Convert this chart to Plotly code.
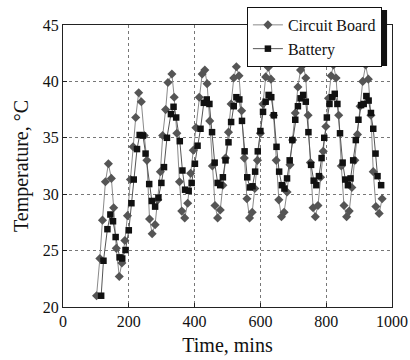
import plotly.graph_objects as go

cb_time = [102,112,120,129,138,147,154,162,171,179,188,196,205,213,221,230,238,247,255,263,
           271,280,288,296,303,312,319,331,338,346,354,361,370,379,388,396,404,414,423,431,
           438,446,454,462,470,478,486,494,503,511,519,527,
           535,543,551,559,567,575,583,591,600,608,616,624,
           632,640,648,656,664,672,681,690,698,706,714,722,730,
           738,745,752,760,767,775,783,791,799,807,815,822,
           830,838,846,854,862,870,878,887,895,903,911,920,
           928,936,943,951,961,970]
cb_temp = [21.0,24.3,27.7,31.1,32.7,31.4,28.8,25.2,22.7,23.9,25.9,28.1,31.3,34.2,36.8,39.0,38.2,35.2,33.0,27.8,
           26.5,27.3,29.5,32.0,35.2,37.5,39.9,40.65,38.6,35.4,31.1,28.5,27.9,29.2,31.85,33.9,35.9,38.6,40.65,41.0,
           39.8,36.5,32.5,29.0,27.9,28.6,30.8,33.2,35.5,38.0,40.3,41.3,
           40.5,37.4,33.2,29.6,27.9,28.4,30.5,33.0,35.4,38.0,40.4,41.25,
           40.2,37.0,33.0,29.5,28.0,28.4,30.2,32.6,34.8,37.2,39.5,41.0,41.45,
           40.3,37.0,32.8,28.8,28.0,29.0,31.5,33.8,36.0,38.5,40.5,41.45,
           40.3,37.0,32.5,29.0,28.0,28.5,30.6,33.0,35.3,37.8,40.0,41.45,
           40.2,37.0,32.0,28.9,28.3,29.6]

bat_time = [116,123,135,144,152,160,172,180,190,200,208,215,225,233,243,251,262,270,280,290,
            299,307,316,328,336,344,355,363,371,382,391,401,409,418,428,
            437,445,453,461,470,478,486,494,503,511,519,527,
            536,544,552,560,568,576,584,592,600,608,616,625,
            633,641,649,657,665,673,681,689,697,706,714,722,730,
            738,746,754,762,770,778,786,794,802,810,818,826,
            834,842,850,858,866,874,882,890,898,906,914,922,
            929,936,943,950,956,967]
bat_temp = [21.0,24.1,26.9,28.2,27.6,26.2,24.4,24.3,25.05,26.8,29.2,31.3,34.0,35.25,35.2,33.6,30.9,29.4,28.9,29.7,
            31.0,32.4,35.0,37.1,37.75,36.8,34.7,32.1,30.4,30.3,31.0,32.7,34.3,35.8,38.1,
            38.4,38.0,35.5,32.8,31.0,30.8,31.5,33.0,34.6,36.4,37.8,38.6,
            38.4,36.5,33.8,31.5,30.6,30.7,32.0,33.8,35.6,37.3,38.2,38.8,
            38.6,37.0,34.2,32.0,30.8,30.5,31.4,33.0,34.8,36.6,37.8,38.5,38.8,
            38.2,35.5,32.6,31.2,30.8,31.6,33.2,35.0,36.8,38.0,38.6,38.9,
            38.0,35.4,32.8,31.3,30.8,31.4,33.0,34.8,36.6,37.9,38.0,38.7,
            38.3,37.2,35.8,33.6,31.6,30.8]

x_ticks = [0, 200, 400, 600, 800, 1000]
y_ticks = [20, 25, 30, 35, 40, 45]

FONT = "Liberation Serif, Times New Roman, serif"

fig = go.Figure()
fig.add_trace(go.Scatter(
    x=cb_time, y=cb_temp, name="Circuit Board", mode="lines+markers",
    line=dict(color="#8a8a8a", width=1),
    marker=dict(symbol="diamond", size=7, color="#555555"),
))
fig.add_trace(go.Scatter(
    x=bat_time, y=bat_temp, name="Battery", mode="lines+markers",
    line=dict(color="#555555", width=1),
    marker=dict(symbol="square", size=6.5, color="#111111"),
))

axis_common = dict(
    showline=True, linecolor="#222", linewidth=1, mirror=True,
    ticks="inside", ticklen=4, tickcolor="#222",
    showgrid=True, gridcolor="#777", griddash="dot", gridwidth=1,
    zeroline=False, automargin=False,
    tickfont=dict(family=FONT, size=16, color="#111"),
)

fig.update_xaxes(range=[0, 1000], tickvals=x_ticks,
                 title=dict(text="Time, mins", font=dict(family=FONT, size=20, color="#111"), standoff=8),
                 **axis_common)
fig.update_yaxes(range=[20, 45], tickvals=y_ticks,
                 title=dict(text="Temperature, °C", font=dict(family=FONT, size=20, color="#111"), standoff=8),
                 **axis_common)

# legend shadow (offset black box behind the legend)
fig.add_shape(type="rect", xref="paper", yref="paper",
              x0=0.568, x1=0.985, y0=0.855, y1=1.053,
              fillcolor="#111", line=dict(width=0), layer="above")

fig.update_layout(
    width=410, height=360,
    margin=dict(l=63, r=18, t=25, b=53, autoexpand=False),
    paper_bgcolor="white", plot_bgcolor="white",
    showlegend=True,
    legend=dict(x=0.559, y=1.064, xanchor="left", yanchor="top",
                bgcolor="white", bordercolor="#111", borderwidth=1,
                font=dict(family=FONT, size=16, color="#111"),
                tracegroupgap=0, itemwidth=30),
)

fig.write_html("out.html",
               config={"displayModeBar": False},
               post_script="document.body.style.margin='0';document.body.style.overflow='hidden';")
